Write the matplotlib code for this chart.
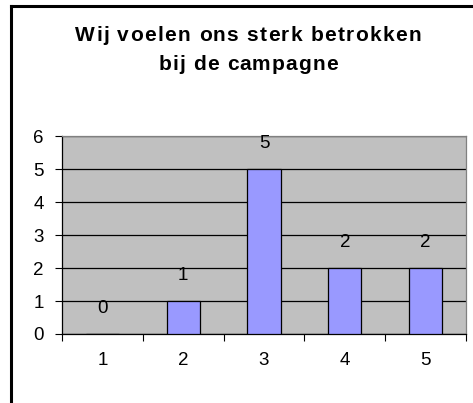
import matplotlib
matplotlib.use("Agg")
import matplotlib.pyplot as plt
from matplotlib.lines import Line2D
from matplotlib.font_manager import FontProperties

categories = ["1", "2", "3", "4", "5"]
values = [0, 1, 5, 2, 2]
title_lines = ["Wij voelen ons sterk betrokken", "bij de campagne"]

plt.rcParams['font.family'] = ['Liberation Sans', 'DejaVu Sans']

W, H = 473, 403
fig = plt.figure(figsize=(W / 100, H / 100), dpi=100)
fig.patch.set_facecolor("white")

# outer chart frame (left and top visible)
fig.add_artist(Line2D([11 / W, 11 / W], [0, 1 - 6 / H], transform=fig.transFigure,
                      color="black", lw=2.2, solid_capstyle="projecting"))
fig.add_artist(Line2D([11 / W, 1], [1 - 6 / H, 1 - 6 / H], transform=fig.transFigure,
                      color="black", lw=2.2, solid_capstyle="projecting"))

left, right, top, bottom = 62, 466, 136, 334
ax = fig.add_axes([left / W, 1 - bottom / H, (right - left) / W, (bottom - top) / H])
ax.set_facecolor("#C0C0C0")

x = list(range(1, len(categories) + 1))
ax.bar(x, values, width=0.41, color="#9999FF", edgecolor="black", linewidth=0.9, zorder=3)

for xi, v in zip(x, values):
    ax.annotate(str(v), (xi, v), xytext=(0, 18.5), textcoords="offset points",
                ha="center", va="center", fontsize=13.5, zorder=4)

ax.set_xlim(0.5, len(categories) + 0.5)
ax.set_ylim(0, 6)
ax.set_yticks(range(0, 7))
ax.set_xticks(x)
ax.set_xticklabels(categories)
ax.set_xticks([i + 0.5 for i in range(0, len(categories) + 1)], minor=True)
ax.tick_params(axis="x", which="major", length=0, pad=13, labelsize=13.5)
ax.tick_params(axis="x", which="minor", length=5, width=0.8, direction="out", color="black")
ax.tick_params(axis="y", length=5, width=0.8, direction="out", pad=8, labelsize=13.5)

ax.grid(axis="y", color="black", linewidth=0.9, zorder=1)
ax.set_axisbelow(True)

for s in ["top", "right"]:
    ax.spines[s].set_color("#808080")
    ax.spines[s].set_linewidth(0.9)
for s in ["left", "bottom"]:
    ax.spines[s].set_color("black")
    ax.spines[s].set_linewidth(0.9)

# title with slight extra letter spacing (as rendered in the original)
prop = FontProperties(family="Liberation Sans", weight="bold", size=15)
renderer = fig.canvas.get_renderer()


def text_w(s):
    return renderer.get_text_width_height_descent(s, prop, ismath=False)[0]


def spaced_line(s, cx, baseline, spacing):
    ref = text_w("x")
    starts = [text_w(s[:i] + "x") - ref if i > 0 else 0.0 for i in range(len(s))]
    total = text_w(s) + spacing * (len(s) - 1)
    x0 = cx - total / 2
    for i, ch in enumerate(s):
        if ch == " ":
            continue
        px = x0 + starts[i] + spacing * i
        fig.text(px / W, 1 - baseline / H, ch, fontproperties=prop,
                 ha="left", va="baseline")


spaced_line(title_lines[0], 248, 41, 1.3)
spaced_line(title_lines[1], 248, 70, 1.1)

fig.savefig("out.png", dpi=100)
